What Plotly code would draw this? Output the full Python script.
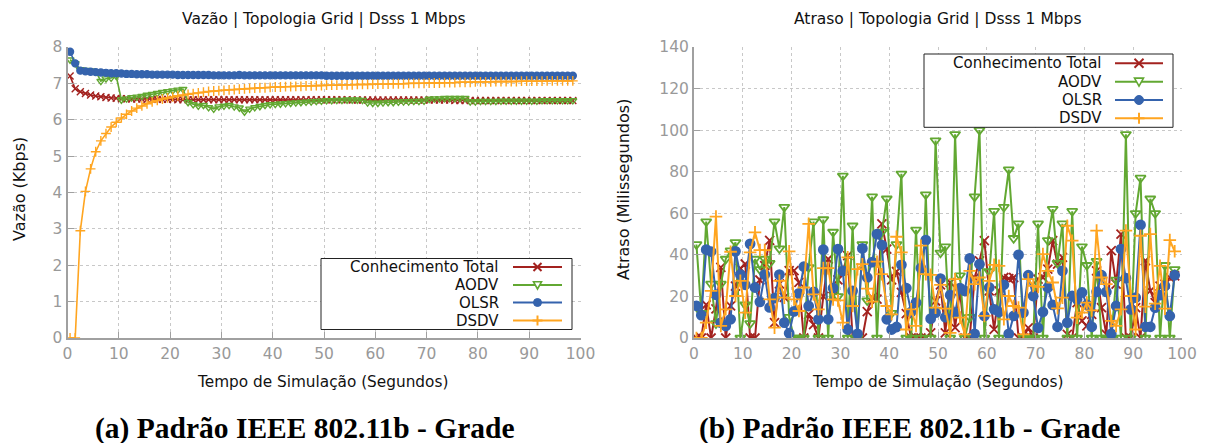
import plotly.graph_objects as go

# ---------------- data: left chart (Vazão, Kbps) ----------------
vz_ct = [7.20, 6.85, 6.77, 6.72, 6.68, 6.65, 6.63, 6.61, 6.60, 6.59,
         6.58, 6.58, 6.57, 6.57, 6.57, 6.56, 6.56, 6.56, 6.56, 6.56,
         6.56, 6.55, 6.55, 6.55, 6.55, 6.55, 6.55, 6.55, 6.55, 6.55,
         6.55, 6.55, 6.55, 6.55, 6.55, 6.55, 6.55, 6.55, 6.55, 6.55,
         6.55, 6.55, 6.55, 6.55, 6.55, 6.55, 6.55, 6.55, 6.55, 6.55,
         6.55, 6.55, 6.55, 6.55, 6.55, 6.54, 6.54, 6.54, 6.54, 6.54,
         6.54, 6.54, 6.54, 6.54, 6.54, 6.54, 6.54, 6.54, 6.54, 6.54,
         6.54, 6.54, 6.54, 6.54, 6.54, 6.53, 6.53, 6.53, 6.53, 6.53,
         6.53, 6.53, 6.53, 6.53, 6.53, 6.53, 6.53, 6.53, 6.53, 6.53,
         6.53, 6.53, 6.53, 6.53, 6.53, 6.53, 6.53, 6.53, 6.53]
vz_aodv = [7.65, 7.55, 7.38, 7.36, 7.35, 7.33, 7.06, 7.13, 7.15, 7.20,
           6.55, 6.58, 6.61, 6.63, 6.65, 6.68, 6.70, 6.73, 6.76, 6.78,
           6.80, 6.82, 6.84, 6.48, 6.42, 6.38, 6.40, 6.34, 6.30, 6.36,
           6.38, 6.40, 6.36, 6.33, 6.22, 6.30, 6.34, 6.37, 6.40, 6.42,
           6.43, 6.44, 6.45, 6.46, 6.47, 6.48, 6.49, 6.50, 6.51, 6.52,
           6.53, 6.53, 6.54, 6.54, 6.55, 6.55, 6.55, 6.54, 6.47, 6.46,
           6.46, 6.47, 6.48, 6.48, 6.49, 6.50, 6.50, 6.51, 6.51, 6.52,
           6.57, 6.58, 6.58, 6.59, 6.59, 6.59, 6.59, 6.59, 6.50, 6.50,
           6.51, 6.51, 6.51, 6.51, 6.52, 6.52, 6.52, 6.52, 6.52, 6.52,
           6.52, 6.52, 6.53, 6.53, 6.53, 6.53, 6.53, 6.53, 6.53]
vz_olsr = [7.87, 7.55, 7.35, 7.33, 7.32, 7.31, 7.30, 7.29, 7.28, 7.28,
           7.27, 7.26, 7.26, 7.25, 7.25, 7.25, 7.24, 7.24, 7.24, 7.24,
           7.24, 7.23, 7.23, 7.23, 7.23, 7.23, 7.23, 7.23, 7.22, 7.22,
           7.22, 7.22, 7.22, 7.23, 7.22, 7.22, 7.22, 7.22, 7.22, 7.22,
           7.22, 7.22, 7.22, 7.22, 7.22, 7.22, 7.22, 7.22, 7.22, 7.22,
           7.21, 7.21, 7.21, 7.21, 7.21, 7.21, 7.21, 7.21, 7.21, 7.21,
           7.21, 7.21, 7.21, 7.21, 7.21, 7.21, 7.21, 7.21, 7.21, 7.21,
           7.21, 7.21, 7.21, 7.21, 7.21, 7.21, 7.21, 7.21, 7.21, 7.21,
           7.21, 7.21, 7.21, 7.21, 7.21, 7.21, 7.21, 7.21, 7.21, 7.21,
           7.21, 7.21, 7.21, 7.21, 7.21, 7.21, 7.21, 7.21, 7.21]
vz_dsdv = [0.00, 0.00, 2.95, 4.03, 4.65, 5.12, 5.42, 5.62, 5.80, 5.93,
           6.05, 6.15, 6.24, 6.32, 6.38, 6.44, 6.49, 6.53, 6.57, 6.60,
           6.63, 6.66, 6.68, 6.70, 6.72, 6.74, 6.76, 6.78, 6.79, 6.80,
           6.81, 6.82, 6.83, 6.84, 6.85, 6.86, 6.87, 6.88, 6.88, 6.89,
           6.90, 6.90, 6.91, 6.91, 6.92, 6.92, 6.93, 6.93, 6.94, 6.94,
           6.95, 6.95, 6.95, 6.96, 6.96, 6.96, 6.97, 6.97, 6.97, 6.98,
           6.98, 6.98, 6.98, 6.99, 6.99, 6.99, 7.00, 7.00, 7.00, 7.00,
           7.01, 7.01, 7.01, 7.02, 7.02, 7.02, 7.03, 7.03, 7.03, 7.04,
           7.04, 7.04, 7.04, 7.05, 7.05, 7.05, 7.05, 7.05, 7.06, 7.06,
           7.06, 7.06, 7.06, 7.07, 7.07, 7.07, 7.07, 7.07, 7.07]

# ---------------- data: right chart (Atraso, ms) ----------------
at_ct = [0, 0, 16, 0, 14, 34, 0, 15.5, 25, 33.5,
         35.6, 0, 0, 27.9, 34.8, 47, 7.4, 26, 19.5, 32.4,
         32.4, 26.8, 0, 11.4, 6.4, 0, 20, 38, 20, 28,
         32.4, 39.6, 0, 0, 0, 12.7, 19.5, 18.7, 54.9, 42.8,
         28, 32, 22, 11.7, 0, 0, 0, 0, 2.5, 17.8,
         25.6, 2.5, 26.7, 5, 22.7, 0, 0, 29, 37.1, 46.8,
         22.7, 4.1, 22.7, 29.1, 28.6, 29.1, 0, 0, 4.9, 0,
         28.3, 29.1, 33.1, 46.8, 35.5, 38.8, 1.7, 0, 17, 8.2,
         5.8, 11.4, 32.3, 14.6, 1.7, 42, 25.9, 50, 0, 0,
         14.6, 0, 37.2, 22.7, 17, 25, 25.9, 29, 29.9]
at_aodv = [45, 12, 56, 26, 7, 26, 38, 42, 46, 0,
           16, 7, 38, 33, 38, 36, 56, 43, 63, 10,
           0, 0, 0, 34, 56, 0, 57, 0, 51, 20,
           78, 0, 54, 0, 45, 18, 68, 0, 51, 67,
           12, 45, 79, 0, 0, 52, 0, 69, 0, 95,
           41, 44, 0, 98, 30, 0, 10, 68, 100, 0,
           32, 61, 0, 63, 81, 48, 55, 0, 0, 0,
           55, 0, 47, 62, 36, 55, 0, 61, 0, 44,
           35, 0, 37, 0, 0, 0, 28, 0, 98, 0,
           60, 77, 0, 67, 60, 0, 35, 0, 33]
at_olsr = [15.5, 11, 42.5, 41.6, 20.8, 7.4, 5.8, 9, 41.7, 30.5,
           25.6, 45.3, 24.3, 17.4, 30.5, 14.7, 19.2, 30.5, 7.4, 2.3,
           12.8, 21.5, 34.3, 15.4, 22.2, 9, 42.5, 9, 24, 42.8,
           32.3, 4.1, 22.7, 2, 43.1, 29.1, 36.5, 50, 44.7, 9,
           4.1, 5.3, 35.2, 24, 12.5, 17, 33.6, 47.1, 9.3, 12.2,
           28.6, 10, 20.6, 12.2, 24, 22.7, 38.3, 2, 35.5, 10.6,
           24.3, 13.8, 12.5, 25.6, 2, 10.6, 40, 12.2, 30.2, 20.2,
           4.9, 12.5, 24.3, 15.9, 5.4, 32.3, 7.4, 20.2, 18.6, 21.9,
           16, 5.4, 22.2, 30.2, 22.2, 2, 15.4, 42.8, 28.8, 13.8,
           19.4, 54.4, 5.4, 5.4, 14.6, 20.6, 25.1, 10.6, 30.2]
at_dsdv = [0, 0, 7.4, 22.7, 58.4, 5.8, 13.8, 41.5, 20.2, 27.5,
           12.2, 41.2, 50.8, 42.3, 42.3, 18.6, 5, 27.5, 19.4, 41.7,
           18.6, 13, 24.3, 54.9, 21, 13.8, 33.6, 33.6, 18.6, 18.1,
           7.4, 38.8, 15.4, 33.1, 35.5, 23.8, 17.5, 36.7, 30.7, 15.4,
           11.4, 48.7, 41.2, 4.1, 13.8, 5.8, 44.4, 30.7, 30.4, 14.6,
           25.6, 14.1, 2.5, 28.3, 9.8, 1.7, 32.3, 25.9, 29.1, 10.6,
           27.5, 35.2, 34.7, 9, 20.2, 15.4, 14.6, 1.7, 28.3, 25.1,
           24.6, 40.4, 32.3, 26.7, 14.3, 19.4, 54, 46.8, 9.8, 12.2,
           17, 13.3, 51.7, 29.1, 25.9, 8.2, 5.8, 13.8, 51.7, 20.2,
           4.1, 49.2, 15.1, 50, 16.5, 34.7, 14.1, 47.1, 41.7]

names = ["Conhecimento Total", "AODV", "OLSR", "DSDV"]
x_ticks = [0, 10, 20, 30, 40, 50, 60, 70, 80, 90, 100]
y_ticks_left = [0, 1, 2, 3, 4, 5, 6, 7, 8]
y_ticks_right = [0, 20, 40, 60, 80, 100, 120, 140]

# ---------------- styling ----------------
colors = ["#a3221f", "#62a832", "#3563ad", "#ffa520"]
symbols = ["x-thin-open", "triangle-down-open", "circle", "cross-thin-open"]

W, H = 1211, 443
def px_x(p):
    return p / W
def px_y(p):
    return 1 - p / H

fig = go.Figure()

def t_of(n):
    return [i + 0.5 for i in range(n)]

left = [vz_ct, vz_aodv, vz_olsr, vz_dsdv]
right = [at_ct, at_aodv, at_olsr, at_dsdv]

for k in range(4):
    fig.add_trace(go.Scatter(
        x=t_of(len(left[k])), y=left[k], name=names[k], mode="lines+markers",
        line=dict(color=colors[k], width=1.6),
        marker=dict(symbol=symbols[k], size=7,
                    color=colors[k], line=dict(color=colors[k], width=1.4)),
        xaxis="x", yaxis="y", showlegend=False))
for k in range(4):
    fig.add_trace(go.Scatter(
        x=t_of(len(right[k])), y=right[k], name=names[k], mode="lines+markers",
        line=dict(color=colors[k], width=2),
        marker=dict(symbol=symbols[k], size=9,
                    color=colors[k], line=dict(color=colors[k], width=1.8)),
        xaxis="x2", yaxis="y2", showlegend=False))

axis_common = dict(
    showline=True, linecolor="#a0a0a0", linewidth=2,
    ticks="inside", ticklen=6, tickcolor="#a0a0a0", tickwidth=1,
    showgrid=True, gridcolor="#c8c8c8", griddash="dot", gridwidth=1,
    zeroline=False, mirror=False, automargin=False,
    tickfont=dict(family="DejaVu Sans", size=15.5, color="#999999"),
    fixedrange=True,
)

ydom = [px_y(338), px_y(47)]
fig.update_layout(
    width=W, height=H, autosize=False,
    margin=dict(l=0, r=0, t=0, b=0, pad=0),
    paper_bgcolor="white", plot_bgcolor="white",
    showlegend=False,
    xaxis=dict(domain=[px_x(67.5), px_x(580.5)], range=[0, 100],
               tickvals=x_ticks, anchor="y", **axis_common),
    yaxis=dict(domain=ydom, range=[0, 8], tickvals=y_ticks_left,
               anchor="x", **axis_common),
    xaxis2=dict(domain=[px_x(694), px_x(1182)], range=[0, 100],
                tickvals=x_ticks, anchor="y2", **axis_common),
    yaxis2=dict(domain=ydom, range=[0, 140], tickvals=y_ticks_right,
                anchor="x2", **axis_common),
)

# ---------------- gnuplot-style keys (text left, sample right) ----------------
def add_key(box, text_right, line_x0, line_x1, rows, msize):
    bx0, by0, bx1, by1 = box
    fig.add_shape(type="rect", xref="paper", yref="paper",
                  x0=px_x(bx0), x1=px_x(bx1), y0=px_y(by1), y1=px_y(by0),
                  fillcolor="white", line=dict(color="#222", width=1),
                  layer="above")
    mx = (line_x0 + line_x1) / 2
    for k, ry in enumerate(rows):
        fig.add_annotation(text=names[k], x=px_x(text_right), y=px_y(ry),
                           xref="paper", yref="paper", showarrow=False,
                           xanchor="right", yanchor="middle",
                           font=dict(family="DejaVu Sans", size=15, color="#111"))
        fig.add_shape(type="line", xref="paper", yref="paper",
                      x0=px_x(line_x0), x1=px_x(line_x1),
                      y0=px_y(ry), y1=px_y(ry),
                      line=dict(color=colors[k], width=2), layer="above")
        s = msize
        c = colors[k]
        if k == 0:
            for d in (1, -1):
                fig.add_shape(type="line", xref="paper", yref="paper",
                              x0=px_x(mx - s), x1=px_x(mx + s),
                              y0=px_y(ry - d * s), y1=px_y(ry + d * s),
                              line=dict(color=c, width=2), layer="above")
        elif k == 1:
            path = "M {} {} L {} {} L {} {} Z".format(
                px_x(mx - s), px_y(ry - s * 0.8), px_x(mx + s), px_y(ry - s * 0.8),
                px_x(mx), px_y(ry + s))
            fig.add_shape(type="path", xref="paper", yref="paper", path=path,
                          line=dict(color=c, width=1.6), fillcolor="white",
                          layer="above")
        elif k == 2:
            fig.add_shape(type="circle", xref="paper", yref="paper",
                          x0=px_x(mx - s), x1=px_x(mx + s),
                          y0=px_y(ry + s), y1=px_y(ry - s),
                          line=dict(color=c, width=1), fillcolor=c,
                          layer="above")
        else:
            fig.add_shape(type="line", xref="paper", yref="paper",
                          x0=px_x(mx - s - 1), x1=px_x(mx + s + 1),
                          y0=px_y(ry), y1=px_y(ry),
                          line=dict(color=c, width=2), layer="above")
            fig.add_shape(type="line", xref="paper", yref="paper",
                          x0=px_x(mx), x1=px_x(mx),
                          y0=px_y(ry - s - 1), y1=px_y(ry + s + 1),
                          line=dict(color=c, width=2), layer="above")

add_key((321, 258.5, 572, 329.5), 501, 513, 562, [267, 285, 302.5, 320.5], 4)
add_key((924, 54, 1173, 127.3), 1104, 1115, 1163, [63.3, 81.7, 100, 118.3], 4.5)

# ---------------- titles ----------------
annotations = [
    dict(text="Vazão | Topologia Grid | Dsss 1 Mbps", x=px_x(324), y=px_y(19), size=15.5),
    dict(text="Atraso | Topologia Grid | Dsss 1 Mbps", x=px_x(938), y=px_y(19), size=15.5),
    dict(text="Tempo de Simulação (Segundos)", x=px_x(322), y=px_y(382), size=15.3),
    dict(text="Tempo de Simulação (Segundos)", x=px_x(938), y=px_y(382), size=15.3),
    dict(text="Vazão (Kbps)", x=px_x(19), y=px_y(189), size=16, textangle=-90),
    dict(text="Atraso (Milissegundos)", x=px_x(623), y=px_y(190), size=16, textangle=-90),
]
for a in annotations:
    size = a.pop("size")
    fig.add_annotation(xref="paper", yref="paper", xanchor="center",
                       yanchor="middle", showarrow=False,
                       font=dict(family="DejaVu Sans", size=size, color="#111"), **a)

cap_font = dict(family="Liberation Serif", size=29.5, color="#000")
fig.add_annotation(text="<b>(a) Padrão IEEE 802.11b - Grade</b>", x=px_x(304.5),
                   y=px_y(428), xref="paper", yref="paper", showarrow=False,
                   xanchor="center", yanchor="middle", font=cap_font)
fig.add_annotation(text="<b>(b) Padrão IEEE 802.11b - Grade</b>", x=px_x(909.5),
                   y=px_y(428), xref="paper", yref="paper", showarrow=False,
                   xanchor="center", yanchor="middle", font=cap_font)

fig.write_html(
    "out.html",
    config={"displayModeBar": False, "staticPlot": False},
    post_script="document.body.style.margin='0px';"
                "document.body.style.overflow='hidden';",
)
